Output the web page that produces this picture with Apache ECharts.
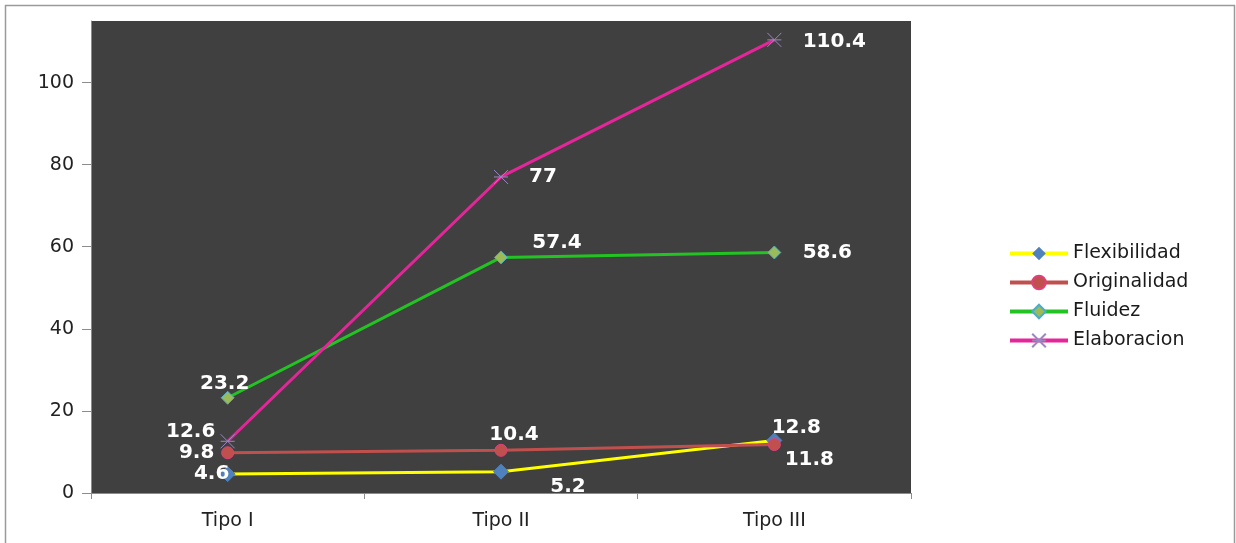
<!DOCTYPE html>
<html>
<head>
<meta charset="utf-8">
<script src="https://cdn.jsdelivr.net/npm/echarts@6/dist/echarts.min.js"></script>
<style>
html,body{margin:0;padding:0;background:#fff;}
#chart{width:1236px;height:543px;}
</style>
</head>
<body>
<div id="chart"></div>
<script>
const categories = ['Tipo I', 'Tipo II', 'Tipo III'];
const flexibilidad = [4.6, 5.2, 12.8];
const originalidad = [9.8, 10.4, 11.8];
const fluidez = [23.2, 57.4, 58.6];
const elaboracion = [12.6, 77, 110.4];
const yTicks = [0, 20, 40, 60, 80, 100];

// label offsets (style only)
const labelOffsets = {
  flex: [[-16, 0], [67, 15], [22, -13]],
  orig: [[-31, 0], [13, -16], [35, 15]],
  flu: [[-3, -14], [56, -15], [53, 0]],
  ela: [[-37, -9], [42, 0], [60, 2]]
};

function build(values, offs) {
  return values.map((v, i) => ({
    value: v,
    label: { position: 'inside', offset: offs[i] }
  }));
}

const labelStyle = {
  show: true,
  color: '#ffffff',
  fontFamily: 'DejaVu Sans',
  fontWeight: 'bold',
  fontSize: 20
};

const chart = echarts.init(document.getElementById('chart'));
chart.setOption({
  animation: false,
  backgroundColor: '#ffffff',
  graphic: [{
    type: 'rect',
    shape: { x: 5.5, y: 5.5, width: 1229, height: 560 },
    style: { fill: 'none', stroke: '#9a9a9a', lineWidth: 1.5 },
    z: -10
  }],
  grid: {
    left: 91, right: 325, top: 21, bottom: 50,
    show: true, backgroundColor: '#404040', borderWidth: 0
  },
  legend: {
    orient: 'vertical',
    left: 1003, top: 239,
    itemWidth: 58, itemHeight: 17, itemGap: 10,
    lineStyle: { width: 4 },
    textStyle: { fontFamily: 'DejaVu Sans', fontSize: 19, color: '#1a1a1a' },
    data: ['Flexibilidad', 'Originalidad', 'Fluidez', 'Elaboracion']
  },
  xAxis: {
    type: 'category',
    data: categories,
    boundaryGap: true,
    axisLine: { lineStyle: { color: '#8c8c8c', width: 1 } },
    axisTick: { show: true, length: 6, lineStyle: { color: '#8c8c8c' } },
    axisLabel: { margin: 19, fontFamily: 'DejaVu Sans', fontSize: 19, color: '#222' },
    splitLine: { show: false }
  },
  yAxis: {
    type: 'value',
    min: 0, max: 115, interval: 20,
    axisLine: { show: true, lineStyle: { color: '#8c8c8c', width: 1 } },
    axisTick: { show: true, length: 9, customValues: yTicks, lineStyle: { color: '#8c8c8c' } },
    axisLabel: { margin: 17, customValues: yTicks, fontFamily: 'DejaVu Sans', fontSize: 19, color: '#222' },
    splitLine: { show: false }
  },
  series: [
    {
      name: 'Flexibilidad', type: 'line',
      data: build(flexibilidad, labelOffsets.flex),
      symbol: 'diamond', symbolSize: 15,
      lineStyle: { color: '#ffff00', width: 3 },
      itemStyle: { color: '#4f81bd', borderColor: '#4f81bd' },
      label: labelStyle
    },
    {
      name: 'Originalidad', type: 'line',
      data: build(originalidad, labelOffsets.orig),
      symbol: 'circle', symbolSize: 12,
      lineStyle: { color: '#c0504d', width: 3 },
      itemStyle: { color: '#c0504d', borderColor: '#e0407a', borderWidth: 1 },
      label: labelStyle
    },
    {
      name: 'Fluidez', type: 'line',
      data: build(fluidez, labelOffsets.flu),
      symbol: 'diamond', symbolSize: 13,
      lineStyle: { color: '#22c322', width: 3 },
      itemStyle: { color: '#9bbb59', borderColor: '#4bacc6', borderWidth: 1 },
      label: labelStyle
    },
    {
      name: 'Elaboracion', type: 'line',
      data: build(elaboracion, labelOffsets.ela),
      symbol: 'path://M0,0L10,10M10,0L0,10M0,5L10,5', symbolSize: 14,
      lineStyle: { color: '#e5259a', width: 3 },
      itemStyle: { color: 'rgba(0,0,0,0)', borderColor: '#9b86c0', borderWidth: 1 },
      label: labelStyle
    }
  ]
});
</script>
</body>
</html>
